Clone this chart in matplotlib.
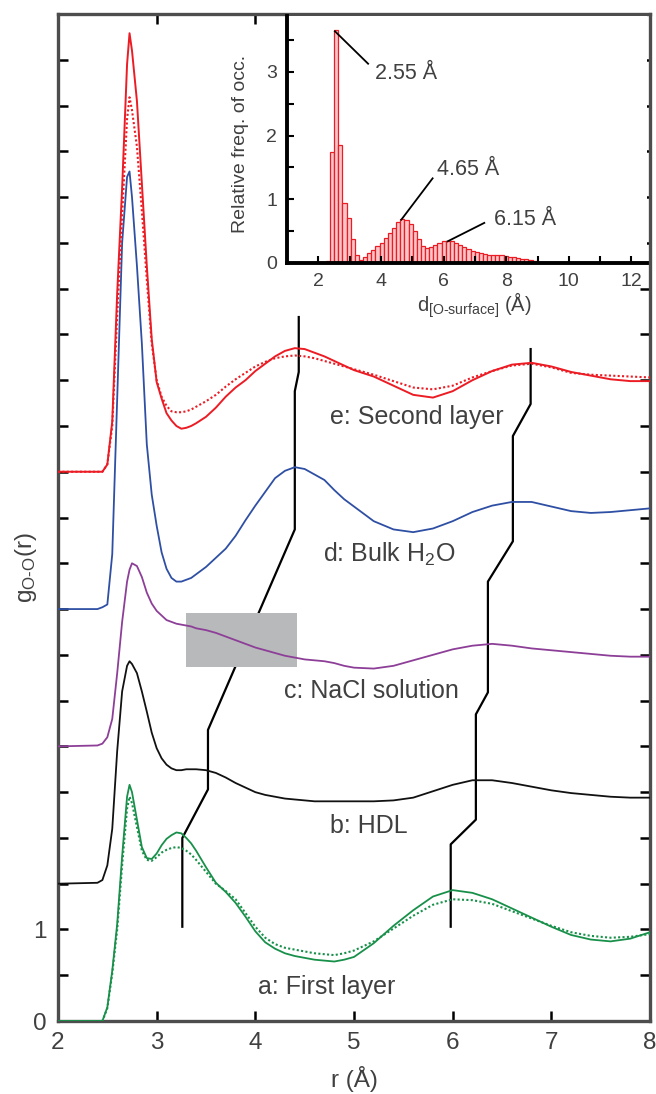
import numpy as np
import matplotlib
matplotlib.use("Agg")
import matplotlib.pyplot as plt
from matplotlib.ticker import MultipleLocator, FuncFormatter
from matplotlib.patches import Rectangle

plt.rcParams['font.family'] = ['Liberation Sans', 'DejaVu Sans']
plt.rcParams['mathtext.fontset'] = 'custom'
plt.rcParams['mathtext.rm'] = 'Liberation Sans'
plt.rcParams['mathtext.it'] = 'Liberation Sans:italic'

TXT = '#404040'

# r grid shared by all g(r) curves
r = [2.0, 2.4, 2.45, 2.5, 2.55, 2.6, 2.65, 2.7, 2.725, 2.75, 2.8, 2.85, 2.9, 2.95,
     3.0, 3.05, 3.1, 3.15, 3.2, 3.25, 3.3, 3.35, 3.4, 3.5, 3.6, 3.7, 3.8, 3.9,
     4.0, 4.1, 4.2, 4.3, 4.4, 4.5, 4.6, 4.7, 4.8, 4.9, 5.0, 5.2, 5.4, 5.6, 5.8,
     6.0, 6.2, 6.4, 6.6, 6.8, 7.0, 7.2, 7.4, 7.6, 7.8, 8.0]

# a: first layer (solid / dotted)
g_first = [0, 0, 0, 0.15, 0.55, 1.06, 1.8, 2.45, 2.58, 2.5, 2.2, 1.9, 1.78, 1.77,
           1.83, 1.92, 1.99, 2.03, 2.06, 2.05, 2.0, 1.94, 1.86, 1.68, 1.51, 1.41, 1.29, 1.14,
           0.98, 0.86, 0.79, 0.74, 0.71, 0.69, 0.67, 0.66, 0.65, 0.67, 0.70, 0.85, 1.04, 1.21, 1.36,
           1.43, 1.40, 1.33, 1.23, 1.13, 1.03, 0.94, 0.89, 0.87, 0.90, 0.97]
g_first_dot = [0, 0, 0, 0.14, 0.52, 1.0, 1.7, 2.32, 2.45, 2.38, 2.12, 1.86, 1.76, 1.75,
               1.79, 1.84, 1.87, 1.89, 1.9, 1.89, 1.86, 1.82, 1.76, 1.63, 1.5, 1.42, 1.33, 1.18,
               1.03, 0.91, 0.84, 0.80, 0.78, 0.76, 0.74, 0.73, 0.72, 0.74, 0.77, 0.87, 1.01, 1.15, 1.27,
               1.33, 1.32, 1.28, 1.2, 1.12, 1.04, 0.97, 0.93, 0.91, 0.92, 0.95]
# b: HDL
g_hdl = [0, 0.01, 0.04, 0.2, 0.6, 1.45, 2.1, 2.38, 2.43, 2.4, 2.3, 2.1, 1.88, 1.65,
         1.48, 1.37, 1.3, 1.26, 1.24, 1.24, 1.25, 1.25, 1.25, 1.24, 1.21, 1.16, 1.1, 1.05,
         1.0, 0.97, 0.95, 0.93, 0.92, 0.91, 0.9, 0.9, 0.9, 0.9, 0.9, 0.9, 0.91, 0.94, 1.01,
         1.08, 1.13, 1.13, 1.1, 1.06, 1.02, 0.99, 0.97, 0.95, 0.94, 0.94]
# c: NaCl solution
g_nacl = [0, 0.01, 0.03, 0.1, 0.3, 0.8, 1.36, 1.8, 1.93, 2.0, 1.97, 1.85, 1.68, 1.56,
          1.48, 1.43, 1.38, 1.36, 1.34, 1.33, 1.32, 1.31, 1.29, 1.27, 1.24, 1.2, 1.16, 1.12,
          1.08, 1.05, 1.02, 0.99, 0.97, 0.95, 0.94, 0.93, 0.91, 0.88, 0.86, 0.85, 0.88, 0.94, 1.0,
          1.06, 1.1, 1.12, 1.1, 1.07, 1.05, 1.03, 1.01, 0.99, 0.98, 0.98]
# d: bulk water
g_bulk = [0, 0, 0.02, 0.05, 0.6, 2.3, 4.0, 4.72, 4.78, 4.5, 3.75, 2.9, 1.8, 1.25,
          0.91, 0.62, 0.44, 0.34, 0.3, 0.3, 0.32, 0.34, 0.38, 0.46, 0.56, 0.66, 0.8, 0.97,
          1.13, 1.28, 1.43, 1.51, 1.55, 1.53, 1.47, 1.41, 1.3, 1.2, 1.12, 0.96, 0.87, 0.84, 0.88,
          0.96, 1.06, 1.13, 1.17, 1.17, 1.12, 1.07, 1.05, 1.06, 1.08, 1.1]
# e: second layer (solid / dotted)
g_second = [0, 0, 0, 0.08, 0.55, 1.95, 3.1, 4.45, 4.79, 4.6, 4.05, 3.15, 2.25, 1.45,
            0.98, 0.8, 0.64, 0.56, 0.5, 0.47, 0.48, 0.5, 0.53, 0.6, 0.7, 0.82, 0.92, 1.0,
            1.1, 1.18, 1.26, 1.32, 1.35, 1.34, 1.3, 1.26, 1.21, 1.16, 1.11, 1.04, 0.94, 0.84, 0.81,
            0.88, 1.0, 1.1, 1.17, 1.19, 1.15, 1.09, 1.05, 1.01, 0.99, 0.99]
g_second_dot = [0, 0, 0, 0.08, 0.5, 1.7, 2.8, 3.85, 4.09, 3.95, 3.55, 2.85, 2.1, 1.4,
                1.0, 0.82, 0.72, 0.66, 0.65, 0.65, 0.66, 0.68, 0.71, 0.77, 0.84, 0.93, 1.01, 1.08,
                1.15, 1.2, 1.24, 1.26, 1.27, 1.26, 1.24, 1.21, 1.18, 1.15, 1.12, 1.06, 0.99, 0.92, 0.9,
                0.94, 1.03, 1.1, 1.16, 1.18, 1.14, 1.08, 1.06, 1.05, 1.04, 1.03]

offsets = [0, 1.5, 3.0, 4.5, 6.0]

# peak tracking guide lines
guide1_x = [3.26, 3.26, 3.52, 3.52, 4.40, 4.40, 4.44, 4.44]
guide1_y = [1.03, 2.0, 2.53, 3.18, 5.37, 6.88, 7.09, 7.69]
guide2_x = [5.98, 5.98, 6.235, 6.235, 6.357, 6.357, 6.61, 6.61, 6.79, 6.79]
guide2_y = [1.03, 1.93, 2.2, 3.35, 3.59, 4.80, 5.24, 6.39, 6.74, 7.34]

# inset histogram
hist_start = 2.24
hist_width = 0.132
hist_vals = [0.03, 1.74, 3.66, 1.85, 0.94, 0.70, 0.37, 0.12, 0.05,
             0.1, 0.15, 0.2, 0.26, 0.32, 0.4, 0.47, 0.55, 0.64, 0.69,
             0.68, 0.62, 0.5, 0.37, 0.27, 0.24, 0.25, 0.29, 0.32, 0.34,
             0.35, 0.34, 0.31, 0.28, 0.25, 0.22, 0.19, 0.17, 0.15, 0.14,
             0.13, 0.13, 0.12, 0.12, 0.11, 0.1, 0.09, 0.08, 0.07, 0.06,
             0.05, 0.035, 0.02, 0.01]
peak_labels = ['2.55 Å', '4.65 Å', '6.15 Å']
peak_pts = [(2.53, 3.64), (4.65, 0.68), (6.13, 0.34)]
peak_line_end = [(3.59, 3.13), (5.65, 1.33), (7.30, 0.63)]
peak_text_pos = [(3.8, 2.97), (5.79, 1.47), (7.62, 0.69)]

RED = '#ec1c24'
BLUE = '#2e4fa3'
PURPLE = '#8d3f98'
BLACK = '#111111'
GREEN = '#18904a'

fig = plt.figure(figsize=(6.56, 10.94), dpi=100)
ax = fig.add_axes([0.0884, 0.0667, 0.9025, 0.9205])

r_arr = np.array(r)
ax.plot(r_arr, np.array(g_first) + offsets[0], color=GREEN, lw=1.3, zorder=4)
ax.plot(r_arr, np.array(g_first_dot) + offsets[0], color=GREEN, lw=1.5, ls=(0, (1, 1.1)), zorder=4)
ax.plot(r_arr, np.array(g_hdl) + offsets[1], color=BLACK, lw=1.3, zorder=4)
ax.plot(r_arr, np.array(g_nacl) + offsets[2], color=PURPLE, lw=1.3, zorder=4)
ax.plot(r_arr, np.array(g_bulk) + offsets[3], color=BLUE, lw=1.3, zorder=4)
ax.plot(r_arr, np.array(g_second) + offsets[4], color=RED, lw=1.4, zorder=4)
ax.plot(r_arr, np.array(g_second_dot) + offsets[4], color=RED, lw=1.5, ls=(0, (1, 1.1)), zorder=4)

ax.plot(guide1_x, guide1_y, color='black', lw=1.6, zorder=2)
ax.plot(guide2_x, guide2_y, color='black', lw=1.6, zorder=2)
ax.add_patch(Rectangle((3.30, 3.87), 1.12, 0.59, facecolor='#b8b9bb', edgecolor='none', zorder=3))

lab_kw = dict(fontsize=18, color=TXT, va='center', ha='left')
ax.text(4.76, 6.6, 'e: Second layer', **lab_kw)
ax.text(4.69, 5.1, r'd: Bulk H$_2$O', **lab_kw)
ax.text(4.29, 3.6, 'c: NaCl solution', **lab_kw)
ax.text(4.76, 2.13, 'b: HDL', **lab_kw)
ax.text(4.03, 0.37, 'a: First layer', **lab_kw)

ax.set_xlim(2, 8)
ax.set_ylim(0, 11)
ax.xaxis.set_major_locator(MultipleLocator(1))
ax.yaxis.set_major_locator(MultipleLocator(0.5))
ax.yaxis.set_major_formatter(FuncFormatter(lambda v, p: '%d' % v if v in (0, 1) else ''))
ax.tick_params(direction='in', length=7, width=1.8, color='black', labelsize=17.5,
               labelcolor=TXT, top=True, right=True, pad=8)
for s in ax.spines.values():
    s.set_color('#4d4d4d')
    s.set_linewidth(2.4)
ax.text(0.5, -0.058, 'r (Å)', transform=ax.transAxes, ha='center', va='center',
        fontsize=17.5, color=TXT)
ax.text(-0.054, 0.45, r'g$_{\text{O-O}}$(r)', transform=ax.transAxes, ha='center',
        va='center', rotation=90, fontsize=17.5, color=TXT)

# inset
ins = fig.add_axes([0.4375, 0.7596, 0.549, 0.2258])
ins.set_facecolor('white')
left_edges = hist_start + hist_width * np.arange(len(hist_vals))
ins.bar(left_edges, hist_vals, width=hist_width, align='edge', color='#f9c6c9',
        edgecolor=RED, linewidth=0.9)
for lab, p0, p1, tp in zip(peak_labels, peak_pts, peak_line_end, peak_text_pos):
    ins.plot([p0[0], p1[0]], [p0[1], p1[1]], color='black', lw=1.3)
    ins.text(tp[0], tp[1], lab, fontsize=15.5, color=TXT, ha='left', va='center')
ins.set_xlim(1, 12.5)
ins.set_ylim(0, 3.88)
ins.xaxis.set_major_locator(MultipleLocator(2))
ins.xaxis.set_minor_locator(MultipleLocator(1))
ins.yaxis.set_major_locator(MultipleLocator(1))
ins.yaxis.set_minor_locator(MultipleLocator(0.5))
ins.tick_params(which='both', direction='in', length=5, width=1.5, color='black',
                labelsize=14, labelcolor=TXT, pad=7)
for side in ['top', 'right']:
    ins.spines[side].set_visible(False)
for side in ['left', 'bottom']:
    ins.spines[side].set_color('black')
    ins.spines[side].set_linewidth(2.8)
ins.text(0.52, -0.17, r'd$_{\text{[O-surface]}}$ (Å)', transform=ins.transAxes,
         ha='center', va='center', fontsize=14.5, color=TXT)
ins.text(-0.13, 0.48, 'Relative freq. of occ.', transform=ins.transAxes, ha='center',
         va='center', rotation=90, fontsize=14, color=TXT)

fig.savefig('out.png', dpi=100)
